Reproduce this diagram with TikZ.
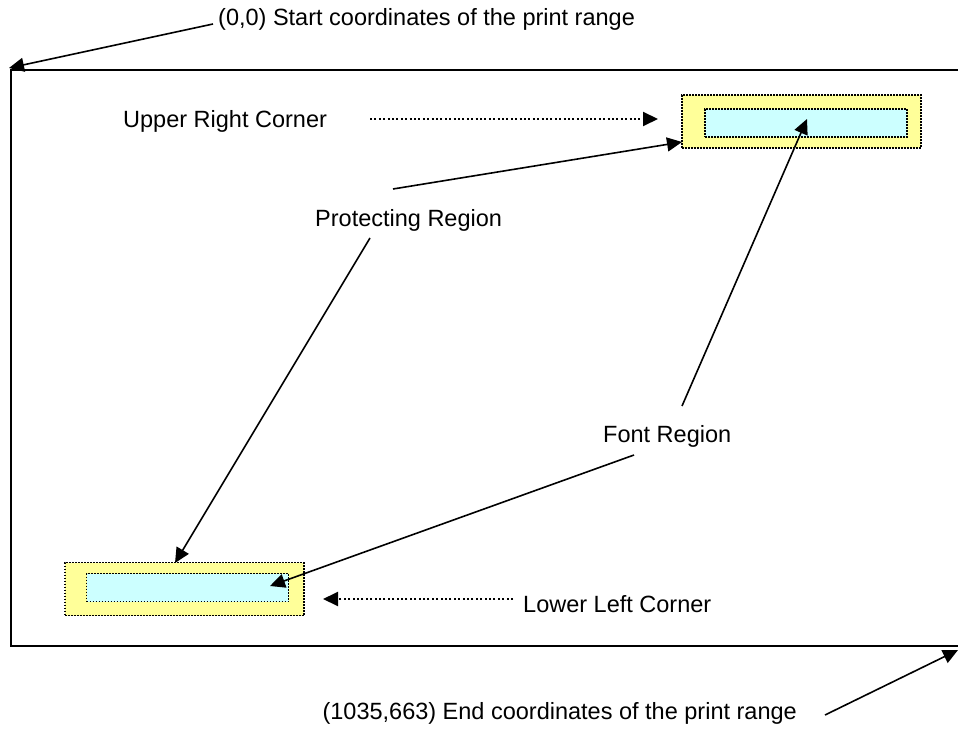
\documentclass[tikz,border=0pt]{standalone}
\usepackage{fontspec}
\setmainfont{Liberation Sans}
\usetikzlibrary{arrows.meta}
\definecolor{protyellow}{HTML}{FFFF99}
\definecolor{fontcyan}{HTML}{CCFFFF}
\tikzset{
  lbl/.style={inner sep=0pt, anchor=base west, font=\fontsize{23.5}{28}\selectfont},
  protbox/.style={draw=black, fill=protyellow, line width=1.8pt, dash pattern=on 1.6pt off 1.4pt, minimum width=239pt, minimum height=53pt, inner sep=0pt},
  fontbox/.style={draw=black, fill=fontcyan, line width=1.8pt, dash pattern=on 1.6pt off 1.4pt, minimum width=202pt, minimum height=28pt, inner sep=0pt},
  arr/.style={line width=1.6pt, -{Triangle[length=15pt,width=14pt]}},
  darr/.style={line width=2pt, dash pattern=on 2pt off 2.4pt, -{Triangle[length=15pt,width=14pt]}},
  frame/.style={line width=2.4pt}
}
\begin{document}
\begin{tikzpicture}[x=1pt,y=-1pt]
\useasboundingbox (0,0) rectangle (958,733);
\clip (0,0) rectangle (958,733);
% print range frame
\draw[frame] (975,70) -- (11,70) -- (11,646) -- (975,646);
\coordinate (origin) at (9,68);
\coordinate (endpt) at (958,650);
% regions
\node[protbox] (uy) at (801.5,121.5) {};
\node[fontbox] (uc) at (806,123) {};
\node[protbox] (ly) at (184.5,589) {};
\node[fontbox] (lc) at (187.5,587.5) {};
% labels
\node[lbl] (start) at (218,26) {(0,0) Start coordinates of the print range};
\node[lbl] (urc) at (123,128) {Upper Right Corner};
\node[lbl] (prot) at (315,226) {Protecting Region};
\node[lbl] (fontr) at (603,442) {Font Region};
\node[lbl] (llc) at (523,612) {Lower Left Corner};
\node[lbl, anchor=base east] (endl) at (797,719) {(1035,663) End coordinates of the print range};
% connector points
\coordinate (s1) at (213,24);
\coordinate (u1) at (370,119);
\coordinate (u2) at (658,119);
\coordinate (p1) at (393,189);
\coordinate (p1t) at (682,142);
\coordinate (p2) at (370,238);
\coordinate (p2t) at (175,563);
\coordinate (f1) at (682,406);
\coordinate (f1t) at (807,119);
\coordinate (f2) at (634,455);
\coordinate (f2t) at (270,586);
\coordinate (l1) at (513,599);
\coordinate (l2) at (323,599);
\coordinate (e1) at (825,715);
% connectors
\draw[arr] (s1) -- (origin);
\draw[darr] (u1) -- (u2);
\draw[arr] (p1) -- (p1t);
\draw[arr] (p2) -- (p2t);
\draw[arr] (f1) -- (f1t);
\draw[arr] (f2) -- (f2t);
\draw[darr] (l1) -- (l2);
\draw[arr] (e1) -- (endpt);
\end{tikzpicture}
\end{document}
